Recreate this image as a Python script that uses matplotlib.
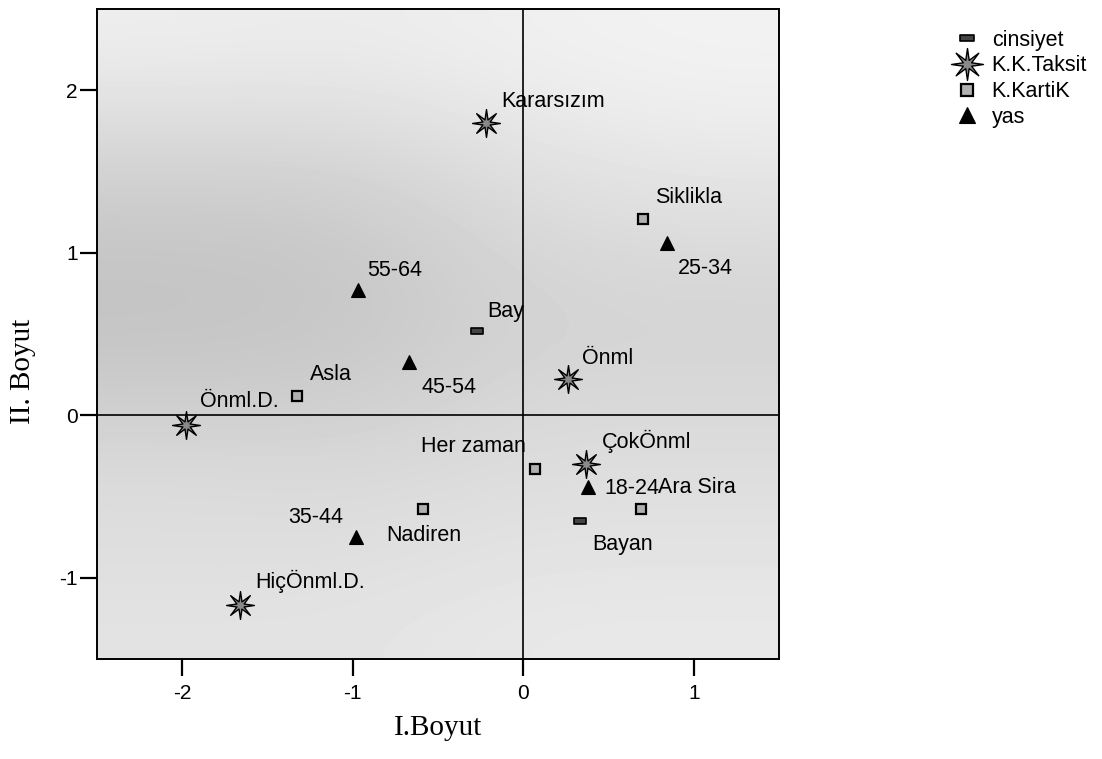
import numpy as np
import matplotlib
matplotlib.use("Agg")
import matplotlib.pyplot as plt
from matplotlib.path import Path

plt.rcParams["font.family"] = ["Liberation Sans", "DejaVu Sans"]

# category points of the correspondence map
cinsiyet_labels = ["Bay", "Bayan"]
cinsiyet_x = [-0.27, 0.33]
cinsiyet_y = [0.52, -0.65]

taksit_labels = ["Kararsızım", "Önml", "ÇokÖnml", "Önml.D.", "HiçÖnml.D."]
taksit_x = [-0.22, 0.26, 0.37, -1.98, -1.66]
taksit_y = [1.80, 0.22, -0.30, -0.06, -1.17]

kartik_labels = ["Siklikla", "Asla", "Her zaman", "Ara Sira", "Nadiren"]
kartik_x = [0.70, -1.33, 0.07, 0.69, -0.59]
kartik_y = [1.21, 0.12, -0.33, -0.58, -0.58]

yas_labels = ["25-34", "55-64", "45-54", "18-24", "35-44"]
yas_x = [0.84, -0.97, -0.67, 0.38, -0.98]
yas_y = [1.06, 0.77, 0.33, -0.44, -0.75]

# text offsets (points) and alignment for each point label
label_offsets = {
    "Bay": (7, 14, "left"), "Bayan": (9, -17, "left"),
    "Kararsızım": (11, 15, "left"), "Önml": (10, 15, "left"),
    "ÇokÖnml": (11, 16, "left"), "Önml.D.": (10, 17, "left"),
    "HiçÖnml.D.": (11, 17, "left"),
    "Siklikla": (9, 15, "left"), "Asla": (10, 15, "left"),
    "Her zaman": (-7, 16, "right"), "Ara Sira": (12, 16, "left"),
    "Nadiren": (1, -19, "center"),
    "25-34": (8, -18, "left"), "55-64": (7, 14, "left"),
    "45-54": (9, -19, "left"), "18-24": (12, -1, "left"),
    "35-44": (-9, 14, "right"),
}

# scanned stipple shading, rough tone map (top row = top of plot)
shade = np.array([
    [0.93, 0.92, 0.94, 0.95],
    [0.87, 0.87, 0.91, 0.93],
    [0.81, 0.81, 0.87, 0.89],
    [0.77, 0.78, 0.84, 0.85],
    [0.77, 0.78, 0.83, 0.83],
    [0.81, 0.81, 0.85, 0.85],
    [0.86, 0.85, 0.87, 0.87],
    [0.87, 0.87, 0.89, 0.89],
    [0.89, 0.89, 0.91, 0.91],
])

fig = plt.figure(figsize=(11.02, 7.59), dpi=100)
ax = fig.add_axes([0.088, 0.132, 0.619, 0.856])
ax.imshow(shade, cmap="gray", vmin=0, vmax=1, extent=(-2.5, 1.5, -1.5, 2.5),
          aspect="auto", interpolation="bicubic", zorder=0)

ax.axhline(0, color="black", lw=1.2, zorder=1)
ax.axvline(0, color="black", lw=1.2, zorder=1)

rect_marker = Path([(-1, -0.45), (1, -0.45), (1, 0.45), (-1, 0.45), (-1, -0.45)],
                   [Path.MOVETO, Path.LINETO, Path.LINETO, Path.LINETO, Path.CLOSEPOLY])
star_marker = Path.unit_regular_star(8, innerCircle=0.28)

groups = [
    ("cinsiyet", cinsiyet_labels, cinsiyet_x, cinsiyet_y,
     dict(marker=rect_marker, markersize=9, markerfacecolor="#444444",
          markeredgecolor="black", markeredgewidth=1.2)),
    ("K.K.Taksit", taksit_labels, taksit_x, taksit_y,
     dict(marker=star_marker, markersize=20, markerfacecolor="#8a8a8a",
          markeredgecolor="black", markeredgewidth=1.0)),
    ("K.KartiK", kartik_labels, kartik_x, kartik_y,
     dict(marker="s", markersize=7, markerfacecolor="#b0b0b0",
          markeredgecolor="black", markeredgewidth=1.6)),
    ("yas", yas_labels, yas_x, yas_y,
     dict(marker="^", markersize=10, markerfacecolor="black",
          markeredgecolor="black", markeredgewidth=0.8)),
]

for name, labels, xs, ys, style in groups:
    ax.plot(xs, ys, linestyle="none", label=name, zorder=3, **style)
    for lab, x, y in zip(labels, xs, ys):
        dx, dy, ha = label_offsets[lab]
        ax.annotate(lab, (x, y), xytext=(dx, dy), textcoords="offset points",
                    ha=ha, va="center", fontsize=15.5, zorder=4)

ax.set_xlim(-2.5, 1.5)
ax.set_ylim(-1.5, 2.5)
ax.set_xticks([-2, -1, 0, 1])
ax.set_yticks([-1, 0, 1, 2])
ax.set_xticklabels(["-2", "-1", "0", "1"])
ax.set_yticklabels(["-1", "0", "1", "2"])
ax.tick_params(direction="out", length=12, width=1.6, labelsize=15)
ax.tick_params(axis="x", pad=6)
ax.tick_params(axis="y", pad=2)
for sp in ax.spines.values():
    sp.set_linewidth(1.4)

ax.set_xlabel("I.Boyut", family="Liberation Serif", fontsize=21, labelpad=9)
ax.set_ylabel("II. Boyut", family="Liberation Serif", fontsize=21)
ax.yaxis.set_label_coords(-0.09, 0.443)

fig.legend(loc="upper left", bbox_to_anchor=(0.853, 0.975), frameon=False,
           fontsize=15.5, labelspacing=0.22, handlelength=1.5,
           handletextpad=0.4, borderpad=0, numpoints=1, markerscale=1.15)

fig.savefig("out.png", dpi=100)
